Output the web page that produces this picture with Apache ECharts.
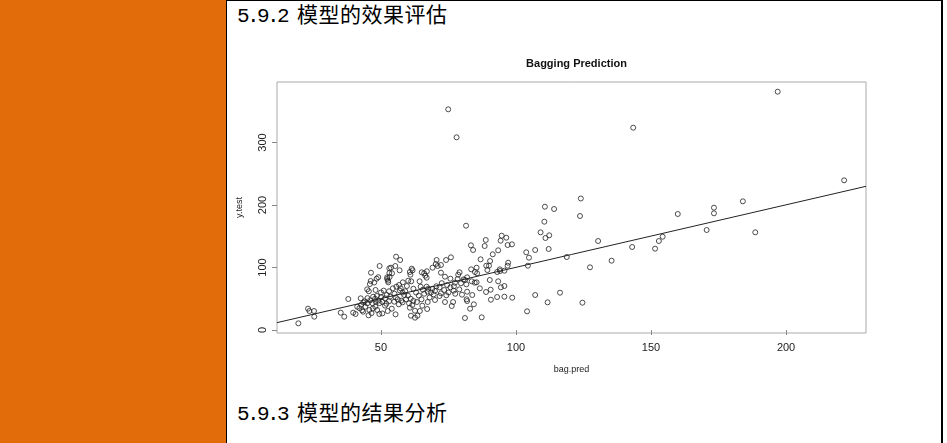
<!DOCTYPE html>
<html>
<head>
<meta charset="utf-8">
<script src="https://cdn.jsdelivr.net/npm/echarts@6/dist/echarts.min.js"></script>
<style>
  html, body { margin: 0; padding: 0; width: 947px; height: 443px; overflow: hidden; background: #fff; }
  .side { position: absolute; left: 0; top: 0; width: 226px; height: 443px; background: #e36c0a; }
  .cell { position: absolute; left: 226px; top: 0; width: 714px; height: 443px;
          border-left: 1px solid #000; border-top: 1px solid #000; border-right: 2px solid #000; }
  .head { position: absolute; left: 237px; font-family: "Noto Sans CJK SC", sans-serif; font-size: 21px;
          letter-spacing: 0.5px; color: #000; line-height: 1; white-space: nowrap; }
  .head .num { font-family: "Liberation Mono", monospace; font-size: 21px; letter-spacing: -2.6px; }
  #chart { position: absolute; left: 227px; top: 30px; width: 714px; height: 360px; }
</style>
</head>
<body>
<div class="side"></div>
<div class="cell"></div>
<div class="head" style="top:3px"><span class="num">5.9.2 </span>模型的效果评估</div>
<div class="head" style="top:401px"><span class="num">5.9.3 </span>模型的结果分析</div>
<div id="chart"></div>
<script>
// bag.pred (x) and y.test (y)
const predicted = [
  74.9, 78.0, 143.4, 124.0, 196.9, 221.5, 184.0, 173.3, 173.3, 170.6, 188.6,
  123.7, 159.9, 130.4, 143.0, 152.9, 154.3, 151.5, 118.8, 135.4, 127.4, 116.3, 124.6,
  110.7, 114.1, 110.5, 109.1, 112.3, 110.9, 112.1, 103.8, 107.1, 104.8, 104.4, 94.7,
  96.4, 94.3, 96.9, 98.5, 93.4, 88.8, 88.4, 83.3, 84.1, 81.5, 91.4, 86.9, 90.4, 90.0,
  97.1, 96.9, 89.0, 85.4, 83.4, 89.4, 94.0, 95.7, 94.1, 93.0, 85.6, 84.8, 90.3, 93.4,
  94.4, 95.7, 85.4, 84.7, 83.6, 81.9, 81.1, 90.6, 88.9, 86.6, 83.8, 81.9, 81.7, 84.4,
  83.0, 90.7, 93.0, 95.7, 98.6, 107.1, 111.7, 104.1, 87.3, 81.1,
  55.6, 57.1, 55.3, 56.9, 53.7, 53.1, 54.1, 53.2, 52.3, 52.7, 58.1, 56.7, 55.7, 54.4,
  57.3, 60.1, 61.2, 59.6, 60.7, 60.9, 61.7, 61.4, 65.1, 64.3, 64.7, 66.0, 67.0, 66.4,
  66.9, 66.9, 67.5, 67.3, 70.6, 70.3, 71.0, 69.1, 72.2, 74.1, 75.9, 72.2, 73.7, 75.7,
  78.6, 79.1, 78.4, 77.4, 80.6, 79.6, 81.6, 71.7, 73.4, 72.2, 74.2, 75.7, 76.9, 76.7,
  76.2, 73.7, 71.7, 81.9, 67.3, 65.3, 67.1, 63.3, 61.6, 60.4, 60.7, 62.6, 64.4, 61.1,
  62.6, 63.5, 55.4, 54.0, 52.5, 56.6, 58.0, 58.6, 56.2, 54.9, 53.4, 52.1, 51.5, 59.3,
  69.0, 70.0, 68.5, 70.5, 65.5, 66.0, 63.0, 64.0, 62.0, 68.0, 69.5, 58.0, 57.0, 55.0,
  60.0, 61.0, 59.0, 53.0, 55.5, 57.5, 62.0, 65.0, 70.0, 72.5, 74.5, 77.0, 79.0, 77.5,
  75.0, 80.0,
  19.4, 23.0, 23.5, 25.2, 25.3, 35.1, 36.4, 37.9, 39.7, 40.6, 41.2, 42.0, 42.7, 42.5,
  43.4, 43.0, 44.2, 44.9, 45.7, 45.4, 46.5, 47.0, 44.9, 45.5, 45.9, 46.2, 47.5, 46.3,
  48.4, 49.0, 49.5, 47.1, 47.8, 48.5, 50.0, 49.0, 46.9, 47.9, 48.6, 49.4, 50.5, 51.5,
  52.0, 53.0, 52.6, 52.3, 53.1, 50.5, 49.5, 48.0, 46.0, 44.0, 43.5, 45.0, 50.0, 51.0, 48.0
];
const actual = [
  353.1, 308.3, 323.7, 210.4, 381.3, 239.5, 205.9, 195.7, 186.7, 160.0, 156.3,
  182.4, 185.6, 142.4, 132.8, 142.4, 149.3, 130.1, 116.8, 110.9, 100.3, 59.7, 43.7,
  197.3, 193.6, 173.3, 156.3, 151.5, 147.2, 129.6, 124.3, 128.0, 115.7, 102.9, 150.9,
  147.7, 142.9, 136.0, 137.1, 127.5, 144.0, 134.4, 135.5, 128.0, 166.9, 121.1, 113.1, 110.4, 102.9,
  107.7, 102.9, 102.9, 99.7, 97.1, 96.0, 97.1, 94.9, 94.4, 92.8, 90.7, 92.8, 80.0, 77.9,
  68.3, 70.4, 76.3, 75.7, 77.9, 84.3, 80.0, 64.5, 60.8, 66.7, 56.0, 61.3, 49.1, 41.1,
  34.1, 48.5, 52.8, 53.3, 51.7, 56.0, 44.3, 29.9, 20.3, 19.2,
  117.3, 112.0, 102.4, 95.5, 99.7, 91.2, 90.7, 84.8, 81.6, 76.3, 76.3, 72.0, 69.3, 66.7,
  66.7, 78.9, 77.9, 70.4, 92.8, 88.5, 95.5, 98.1, 92.3, 77.9, 69.3, 90.7, 93.9, 86.9,
  83.7, 69.3, 66.1, 61.3, 112.0, 105.6, 102.4, 99.7, 104.0, 112.0, 116.3, 91.7, 85.3, 82.1,
  88.5, 92.3, 81.6, 75.7, 81.1, 74.7, 73.1, 68.3, 64.0, 58.7, 55.5, 68.3, 62.9, 44.8,
  38.4, 44.8, 54.4, 46.4, 44.8, 38.9, 33.6, 44.8, 40.0, 42.7, 35.7, 30.9, 30.4, 22.9,
  19.7, 22.9, 25.1, 34.1, 30.4, 41.1, 44.3, 56.0, 49.1, 45.3, 53.3, 56.0, 50.7, 49.1,
  66.0, 62.5, 60.0, 70.0, 64.5, 58.0, 60.0, 55.0, 66.0, 52.0, 57.0, 60.0, 63.0, 58.0,
  55.0, 50.0, 62.0, 62.0, 52.0, 47.0, 46.5, 49.0, 48.0, 75.0, 72.0, 70.0, 65.0, 58.0,
  60.0, 56.5,
  10.7, 34.1, 30.4, 30.4, 21.3, 27.7, 21.3, 49.6, 27.7, 25.6, 37.3, 35.0, 40.5, 50.7,
  29.3, 31.5, 37.3, 42.7, 32.0, 23.5, 27.0, 34.5, 65.1, 62.0, 73.6, 78.4, 76.0, 91.7,
  82.1, 84.5, 102.4, 53.3, 50.0, 54.5, 52.5, 47.0, 42.7, 37.3, 32.0, 25.6, 26.5, 39.0,
  42.0, 46.0, 78.9, 84.3, 98.7, 45.0, 43.0, 45.5, 47.5, 46.0, 44.0, 51.0, 60.0, 63.0, 64.0
];
// fitted line endpoints
const fitX = [11.5, 229.6];
const fitY = [11.8, 229.9];
const xTicks = [50, 100, 150, 200];
const yTicks = [0, 100, 200, 300];

const points = predicted.map((x, i) => [x, actual[i]]);
const fitLine = fitX.map((x, i) => [x, fitY[i]]);

const chart = echarts.init(document.getElementById('chart'));
const labelFont = { fontFamily: 'Liberation Sans, Arial, sans-serif', color: '#222' };
chart.setOption({
  animation: false,
  title: {
    text: 'Bagging Prediction',
    left: 50 + 589 / 2,
    textAlign: 'center',
    top: 23,
    textStyle: { fontSize: 11, fontWeight: 'bold', color: '#111', fontFamily: 'Liberation Sans, Arial, sans-serif' }
  },
  grid: {
    left: 50, top: 52, width: 589, height: 251,
    show: true, borderColor: '#aaa', borderWidth: 1, backgroundColor: 'transparent'
  },
  xAxis: {
    type: 'value', min: 11.5, max: 229.6,
    name: 'bag.pred', nameLocation: 'middle', nameGap: 32,
    nameTextStyle: Object.assign({ fontSize: 9 }, labelFont),
    axisLine: { show: false },
    splitLine: { show: false },
    axisTick: { show: true, customValues: xTicks, length: 5, lineStyle: { color: '#888' } },
    axisLabel: Object.assign({ customValues: xTicks, fontSize: 11, margin: 9 }, labelFont)
  },
  yAxis: {
    type: 'value', min: -4.8, max: 396.8,
    name: 'y.test', nameLocation: 'middle', nameGap: 33, nameRotate: 90,
    nameTextStyle: Object.assign({ fontSize: 9 }, labelFont),
    axisLine: { show: false },
    splitLine: { show: false },
    axisTick: { show: true, customValues: yTicks, length: 5, lineStyle: { color: '#888' } },
    axisLabel: Object.assign({ customValues: yTicks, fontSize: 11, rotate: 90, margin: 9 }, labelFont)
  },
  series: [
    {
      type: 'scatter',
      data: points,
      symbol: 'circle',
      symbolSize: 5,
      itemStyle: { color: 'transparent', borderColor: '#222', borderWidth: 1 }
    },
    {
      type: 'line',
      data: fitLine,
      showSymbol: false,
      lineStyle: { color: '#222', width: 1 }
    }
  ]
});
</script>
</body>
</html>
